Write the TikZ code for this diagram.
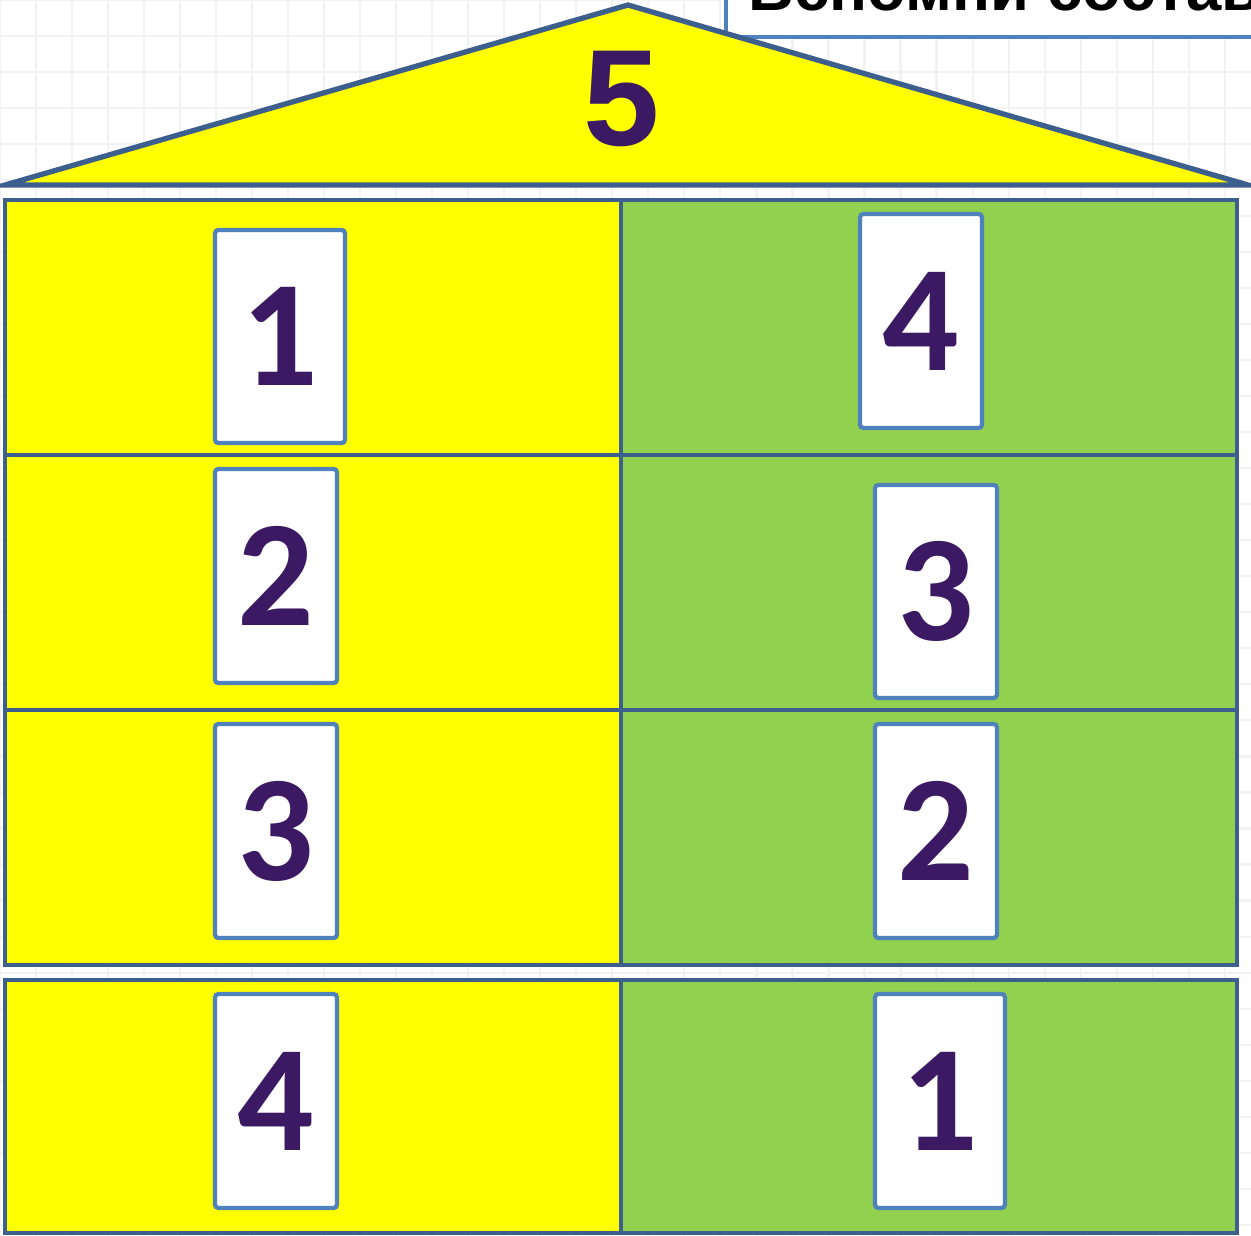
\documentclass[tikz,border=0pt]{standalone}
\usepackage{fontspec}
\setmainfont{Liberation Sans}
\newfontfamily\cardfont{Carlito}
\definecolor{roofyellow}{HTML}{FFFF00}
\definecolor{cellgreen}{HTML}{92D050}
\definecolor{edgeblue}{HTML}{3C5F8D}
\definecolor{cardblue}{HTML}{4F81BD}
\definecolor{digitpurple}{HTML}{3B1A63}
\definecolor{gridgray}{HTML}{F2F2F2}
\tikzset{
  cellY/.style={fill=roofyellow, draw=edgeblue, line width=1.2pt},
  cellG/.style={fill=cellgreen, draw=edgeblue, line width=1.2pt},
  card/.style={draw=cardblue, fill=white, line width=1.2pt, rounded corners=1pt,
    inner sep=0pt, minimum width=#1, minimum height=2.14cm, text=digitpurple,
    font=\cardfont\bfseries\fontsize{43}{43}\selectfont},
  card/.default=1.22cm,
}
\begin{document}
\begin{tikzpicture}[x=0.01cm, y=-0.01cm]
\useasboundingbox (0,0) rectangle (1251,1236);
\clip (0,0) rectangle (1251,1236);
\fill[white] (0,0) rectangle (1251,1236);
% faint grid paper
\draw[gridgray, line width=0.6pt, xstep=0.36cm, ystep=0.36cm] (0,0) grid (1251,1236);
% heading box (cut off at the top and right)
\node[draw=cardblue, fill=white, line width=1.2pt, minimum width=6cm, minimum height=0.8cm, inner sep=0pt] (head) at (1026,-3) {};
\node[anchor=base west, inner sep=0pt, font=\bfseries\fontsize{18}{18}\selectfont] (headtxt) at (748,10) {Вспомни состав};
% roof
\coordinate (apex) at (628,5);
\coordinate (roofL) at (5,185);
\coordinate (roofR) at (1248,185);
\draw[fill=roofyellow, draw=edgeblue, line width=1.5pt, line join=miter] (roofL) -- (apex) -- (roofR) -- cycle;
\node[inner sep=0pt, text=digitpurple, font=\bfseries\fontsize{39}{39}\selectfont] (five) at (622,99) {5};
% cells
\draw[cellY] (5,200) rectangle (621,455);
\draw[cellG] (621,200) rectangle (1237,455);
\draw[cellY] (5,455) rectangle (621,710);
\draw[cellG] (621,455) rectangle (1237,710);
\draw[cellY] (5,710) rectangle (621,965);
\draw[cellG] (621,710) rectangle (1237,965);
\draw[cellY] (5,980) rectangle (621,1233);
\draw[cellG] (621,980) rectangle (1237,1233);
% cards
\node[card=1.30cm, minimum height=2.13cm] (a1) at (280,336.5) {1};
\node[card] (b1) at (921,321) {4};
\node[card] (a2) at (276,576) {2};
\node[card, minimum height=2.13cm] (b2) at (936,591.5) {3};
\node[card] (a3) at (276,831) {3};
\node[card] (b3) at (936,831) {2};
\node[card] (a4) at (276,1101) {4};
\node[card=1.30cm] (b4) at (940,1101) {1};
\end{tikzpicture}
\end{document}
